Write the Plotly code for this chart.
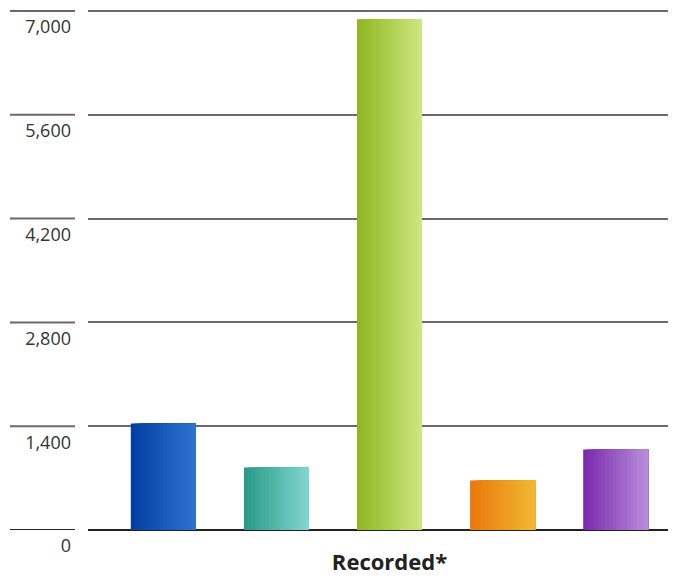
import plotly.graph_objects as go

# ---- data ----
category = "Recorded*"
series_names = ["Series A", "Series B", "Series C", "Series D", "Series E"]
series_values = [1437, 843, 6888, 668, 1086]
y_tick_values = [0, 1400, 2800, 4200, 5600, 7000]
y_tick_labels = ["0", "1,400", "2,800", "4,200", "5,600", "7,000"]

# ---- styles ----
grad_left = ["#033fa3", "#2a9a88", "#8fb822", "#e87a0c", "#7a2cae"]
grad_right = ["#2e72cd", "#80d6cf", "#cde67f", "#f2b733", "#b78cda"]

W, H = 686, 582
ML, MR, MT, MB = 88, 18, 10, 52
plot_w = W - ML - MR
center_px = 389.5          # pixel position of the category centre
slot_px = 113.1            # distance between bar centres
bar_px = 65.0              # bar width
N_SLICES = 18
Y_TOP = 7014

x_lo = -(center_px - ML) / plot_w
x_hi = x_lo + 1.0
slot = slot_px / plot_w
bw = bar_px / plot_w


def hex2rgb(h):
    h = h.lstrip("#")
    return [int(h[i:i + 2], 16) for i in (0, 2, 4)]


def mix(c1, c2, t):
    a, b = hex2rgb(c1), hex2rgb(c2)
    return "rgb(%d,%d,%d)" % tuple(round(a[i] + (b[i] - a[i]) * t) for i in range(3))


fig = go.Figure()
n = len(series_values)
for i, (name, val) in enumerate(zip(series_names, series_values)):
    left = (i - (n - 1) / 2) * slot - bw / 2
    for k in range(N_SLICES):
        t = k / (N_SLICES - 1)
        start = left + bw * k / N_SLICES
        fig.add_trace(go.Bar(
            x=[category], y=[val], name=name,
            offset=start, width=left + bw - start,
            marker=dict(color=mix(grad_left[i], grad_right[i], t), line=dict(width=0)),
            showlegend=False, hoverinfo="skip" if k else "y+name",
        ))

# short tick segments left of the labels
for v in y_tick_values:
    fig.add_shape(type="line", xref="paper", yref="y",
                  x0=(10 - ML) / plot_w, x1=(75 - ML) / plot_w, y0=v, y1=v,
                  line=dict(color="#222222" if v == 0 else "#6a6a6a", width=2))

fig.update_layout(
    width=W, height=H,
    margin=dict(l=ML, r=MR, t=MT, b=MB, autoexpand=False),
    barmode="overlay",
    plot_bgcolor="white", paper_bgcolor="white",
    font=dict(family="Open Sans", color="#333333"),
    xaxis=dict(type="category", range=[x_lo, x_hi], showgrid=False,
               showline=False, zeroline=False, ticks="", automargin=False,
               tickfont=dict(size=22, color="#222222", weight="bold"),
               ticklabelstandoff=17),
    yaxis=dict(range=[0, Y_TOP], tickvals=y_tick_values, ticktext=y_tick_labels,
               showgrid=True, gridcolor="#6a6a6a", gridwidth=2,
               zeroline=True, zerolinecolor="#222222", zerolinewidth=2,
               showline=False, ticks="", automargin=False,
               tickfont=dict(size=18, color="#333333"),
               ticklabelshift=16, ticklabelstandoff=16),
)

fig.write_html("out.html", config={"displayModeBar": False},
               post_script="document.body.style.margin='0';")
